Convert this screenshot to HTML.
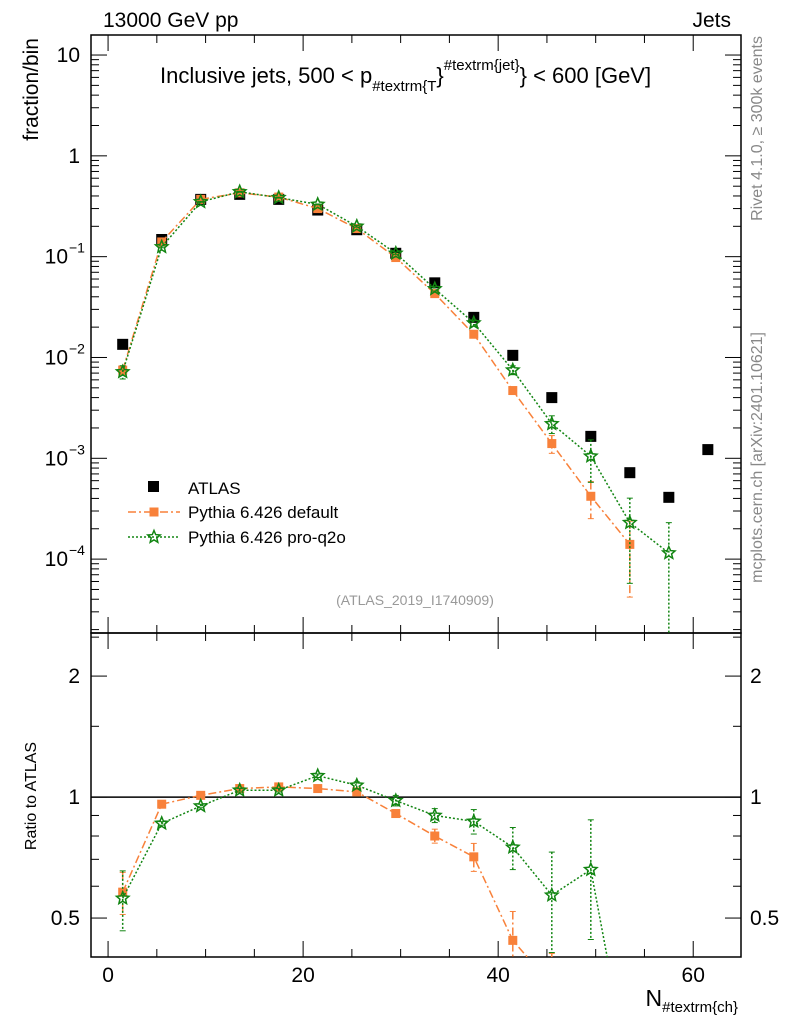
<!DOCTYPE html>
<html><head><meta charset="utf-8"><style>
html,body{margin:0;background:#fff;overflow:hidden;width:786px;height:1024px}
svg{display:block;font-family:"Liberation Sans",Arial,sans-serif}
</style></head><body>
<svg id="c" width="786" height="1024" xmlns="http://www.w3.org/2000/svg"></svg>
<script>
const xs=[1.5,5.5,9.5,13.5,17.5,21.5,25.5,29.5,33.5,37.5,41.5,45.5,49.5,53.5,57.5,61.5];
const atlas=[0.0135,0.148,0.37,0.415,0.37,0.29,0.185,0.108,0.055,0.025,0.0105,0.004,0.00165,0.00072,0.00041,0.00122];
const pyDef=[0.0075,0.14,0.37,0.43,0.39,0.30,0.19,0.098,0.043,0.017,0.0047,0.0014,0.00042,0.00014];
const pyDefErr=[0.1,0.02,0.01,0.01,0.01,0.01,0.01,0.02,0.04,0.06,0.08,0.2,0.4,0.7];
const pyQ2o=[0.0072,0.125,0.35,0.44,0.385,0.33,0.20,0.108,0.048,0.022,0.0075,0.0022,0.00105,0.00023,0.000115];
const pyQ2oErr=[0.15,0.02,0.01,0.01,0.01,0.01,0.02,0.03,0.05,0.07,0.1,0.2,0.45,0.75,1.0];
const rDef=[0.58,0.96,1.01,1.05,1.06,1.05,1.03,0.91,0.80,0.71,0.44,0.34];
const rDefErr=[0.12,0.01,0.01,0.01,0.01,0.01,0.01,0.02,0.04,0.08,0.18,0.2];
const rQ2o=[0.56,0.86,0.95,1.04,1.04,1.13,1.07,0.98,0.90,0.87,0.75,0.57,0.66,0.2];
const rQ2oErr=[0.17,0.01,0.01,0.01,0.01,0.01,0.02,0.03,0.04,0.07,0.12,0.28,0.33,0.3];
const xTicks=[0,20,40,60];
const yTicks=[-4,-3,-2,-1,0,1];
const yTickLabels=["10","10","10","10","1","10"];
const yTickExp=["−4","−3","−2","−1","",""];
const rTicks=[0.5,1,2];

const NS="http://www.w3.org/2000/svg";
const svg=document.getElementById('c');
function el(t,a,p){const e=document.createElementNS(NS,t);for(const k in a)e.setAttribute(k,a[k]);(p||svg).appendChild(e);return e;}
const L=91,R=741,T=35,M=633,B=957;
const xmin=-1.75,xmax=64.9;
const X=v=>L+(v-xmin)/(xmax-xmin)*(R-L);
const lmin=Math.log10(1.85e-5),lmax=Math.log10(15.8);
const Y=v=>M-(Math.log10(v)-lmin)/(lmax-lmin)*(M-T);
const rmin=Math.log10(0.4),rmax=Math.log10(2.56);
const RY=v=>B-(Math.log10(v)-rmin)/(rmax-rmin)*(B-M);

el('defs',{}).innerHTML='<clipPath id="cm"><rect x="'+L+'" y="'+T+'" width="'+(R-L)+'" height="'+(M-T)+'"/></clipPath><clipPath id="cr"><rect x="'+L+'" y="'+M+'" width="'+(R-L)+'" height="'+(B-M)+'"/></clipPath>';

const f1=el('rect',{x:L,y:T,width:R-L,height:M-T,fill:'none',stroke:'#000','stroke-width':1.5});

const f2=el('rect',{x:L,y:M,width:R-L,height:B-M,fill:'none',stroke:'#000','stroke-width':1.5});


for(let v=0;v<=64;v+=5){
  const maj=v%20===0;const x=X(v);const len=maj?16:8;
  for(const [y0,d] of [[M,-1],[T,1],[B,-1],[M,1]]){
    el('line',{x1:x,x2:x,y1:y0,y2:y0+d*len,stroke:'#000','stroke-width':1});
  }
}
xTicks.forEach(v=>{const t=el('text',{x:X(v),y:982,'text-anchor':'middle','font-size':21});t.textContent=v;
});
for(let d=-5;d<=1;d++){for(let m=1;m<10;m++){const v=m*Math.pow(10,d);if(v<1.85e-5||v>15.8)continue;
  const y=Y(v);const len=m===1?16:8;
  el('line',{x1:L,x2:L+len,y1:y,y2:y,stroke:'#000'});el('line',{x1:R,x2:R-len,y1:y,y2:y,stroke:'#000'});}}
yTicks.forEach((d,i)=>{const t=el('text',{x:yTickExp[i]?68:80,y:Y(Math.pow(10,d))+7,'text-anchor':'end','font-size':21});
t.textContent=yTickLabels[i];
if(yTickExp[i]){const s=el('text',{x:69,y:Y(Math.pow(10,d))-4,'font-size':14});s.textContent=yTickExp[i];}});
[0.4,0.5,0.6,0.7,0.8,0.9,1,1.5,2,2.5].forEach(v=>{const y=RY(v);const len=(v===0.5||v===1||v===2)?16:8;
el('line',{x1:L,x2:L+len,y1:y,y2:y,stroke:'#000'});el('line',{x1:R,x2:R-len,y1:y,y2:y,stroke:'#000'});});
rTicks.forEach(v=>{for(const [x,a] of [[80,'end'],[750,'start']]){const t=el('text',{x:x,y:RY(v)+7,'text-anchor':a,'font-size':21});t.textContent=v;
}});
el('line',{x1:L,x2:R,y1:RY(1),y2:RY(1),stroke:'#000','stroke-width':1.5});

const G=el('g',{'clip-path':'url(#cm)'});const GR=el('g',{'clip-path':'url(#cr)'});
function star(g,x,y,r,col){let p='';for(let i=0;i<10;i++){const rr=i%2?r*0.45:r;const a=-Math.PI/2+i*Math.PI/5;p+=(i?'L':'M')+(x+rr*Math.cos(a)).toFixed(1)+' '+(y+rr*Math.sin(a)).toFixed(1);}
const s=el('path',{d:p+'Z',fill:'none',stroke:col,'stroke-width':1.5},g);}
function series(g,vals,errs,fy,col,dash,mk){
  let d='';vals.forEach((v,i)=>{d+=(i?'L':'M')+X(xs[i])+' '+fy(v);});
  const l=el('path',{d:d,fill:'none',stroke:col,'stroke-width':1.5,'stroke-dasharray':dash},g);
  
  vals.forEach((v,i)=>{const x=X(xs[i]);const e=errs[i]*v;const lo=Math.max(v-e,1e-9);
    el('line',{x1:x,x2:x,y1:fy(v+e),y2:fy(lo),stroke:col,'stroke-width':1.5,'stroke-dasharray':dash},g);
    el('line',{x1:x-3,x2:x+3,y1:fy(v+e),y2:fy(v+e),stroke:col},g);
    el('line',{x1:x-3,x2:x+3,y1:fy(lo),y2:fy(lo),stroke:col},g);
    if(mk==='sq'){const r=el('rect',{x:x-4.5,y:fy(v)-4.5,width:9,height:9,fill:col},g);}
    else star(g,x,fy(v),6.5,col);});
}
atlas.forEach((v,i)=>{const r=el('rect',{x:X(xs[i])-5.5,y:Y(v)-5.5,width:11,height:11,fill:'#000'},G);
});
series(G,pyDef,pyDefErr,Y,'#f8813a','8 3 2 3','sq');
series(G,pyQ2o,pyQ2oErr,Y,'#128512','2 2','star');
series(GR,rDef,rDefErr,RY,'#f8813a','8 3 2 3','sq');
series(GR,rQ2o,rQ2oErr,RY,'#128512','2 2','star');

function txt(s,a,name){const t=el('text',a);t.innerHTML=s;return t;}
txt('13000 GeV pp',{x:103,y:27,'font-size':21},'energy-label');
txt('Jets',{x:731,y:27,'font-size':21,'text-anchor':'end'},'process-label');
txt('Inclusive jets, 500 &lt; p<tspan font-size="15" dy="8">#textrm{T</tspan><tspan dy="-8">}</tspan><tspan font-size="15" dy="-13">#textrm{jet}</tspan><tspan dy="13">} &lt; 600 [GeV]</tspan>',{x:160,y:83,'font-size':22},'plot-title');
txt('fraction/bin',{x:0,y:0,'font-size':21,'text-anchor':'end',transform:'translate(38,38) rotate(-90)'},'y-axis-title');
txt('Ratio to ATLAS',{x:0,y:0,'font-size':16,'text-anchor':'middle',transform:'translate(36,796) rotate(-90)'},'ratio-axis-title');
txt('N<tspan font-size="15" dy="6">#textrm{ch}</tspan>',{x:738,y:1006,'font-size':23,'text-anchor':'end'},'x-axis-title');
txt('(ATLAS_2019_I1740909)',{x:415,y:605,'font-size':14,fill:'#999','text-anchor':'middle'},'analysis-id');
txt('Rivet 4.1.0, ≥ 300k events',{x:0,y:0,'font-size':16,fill:'#888','text-anchor':'end',transform:'translate(762,36) rotate(-90)'},'rivet-label');
txt('mcplots.cern.ch [arXiv:2401.10621]',{x:0,y:0,'font-size':16,fill:'#888','text-anchor':'end',transform:'translate(762,332) rotate(-90)'},'mcplots-label');
const lg=el('g',{});
el('rect',{x:148,y:481,width:11,height:11,fill:'#000'},lg);
txt('ATLAS',{x:188,y:494,'font-size':17},'legend-atlas');
el('line',{x1:128,x2:180,y1:512,y2:512,stroke:'#f8813a','stroke-width':1.5,'stroke-dasharray':'8 3 2 3'},lg);
el('rect',{x:149.5,y:507.5,width:9,height:9,fill:'#f8813a'},lg);
txt('Pythia 6.426 default',{x:188,y:518,'font-size':17},'legend-default');
el('line',{x1:128,x2:180,y1:537,y2:537,stroke:'#128512','stroke-width':1.5,'stroke-dasharray':'2 2'},lg);
star(lg,154,537,6.5,'#128512');
txt('Pythia 6.426 pro-q2o',{x:188,y:543,'font-size':17},'legend-pro-q2o');
</script>
</body></html>
